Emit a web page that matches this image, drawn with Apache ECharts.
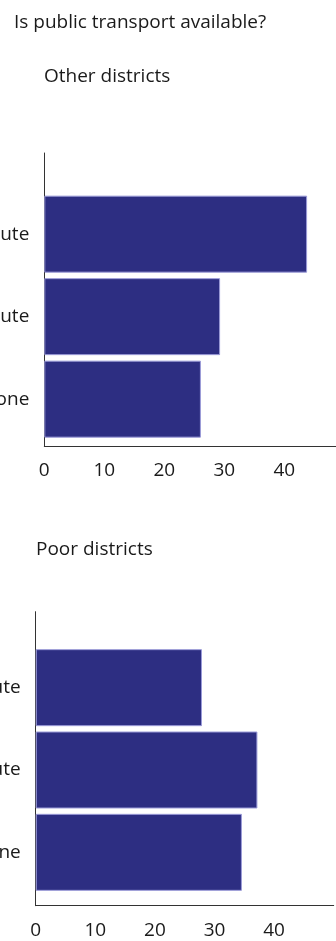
<!DOCTYPE html>
<html><head><meta charset="utf-8">
<script src="https://cdn.jsdelivr.net/npm/echarts@6/dist/echarts.min.js"></script>
<style>html,body{margin:0;padding:0;background:#fff}#c{width:336px;height:941px}</style>
</head><body><div id="c"></div>
<script>
const mainTitle = 'Is public transport available?';
const panelTitles = ['Other districts', 'Poor districts'];
const categories = ['Yes, on my route', 'Yes, but not on my route', 'None'];
const otherDistricts = [43.8, 29.3, 26.1];
const poorDistricts = [27.9, 37.2, 34.6];
const xTicks = [0, 10, 20, 30, 40];

const FONT = '"Open Sans", sans-serif';
const TXT = '#1a1a1a';
const AX = '#333';
const FS = 19;

function barAxes(gi) {
  return {
    x: { type: 'value', gridIndex: gi, min: 0, max: 50, show: false },
    y: { type: 'category', gridIndex: gi, data: categories, inverse: true,
         axisLine: { show: false }, axisTick: { show: false },
         axisLabel: { fontSize: FS, fontFamily: FONT, color: TXT, margin: 15 } }
  };
}
function frameAxes(gi) {
  return {
    x: { type: 'value', gridIndex: gi, min: 0, max: 50, interval: 10,
         axisLine: { show: true, lineStyle: { color: AX, width: 1 } },
         axisTick: { show: false }, splitLine: { show: false },
         axisLabel: { fontSize: FS, fontFamily: FONT, color: TXT, margin: 15,
           formatter: v => xTicks.indexOf(v) >= 0 ? String(v) : '' } },
    y: { type: 'value', gridIndex: gi, min: 0, max: 1,
         axisLine: { show: true, lineStyle: { color: AX, width: 1 } },
         axisTick: { show: false }, splitLine: { show: false }, axisLabel: { show: false } }
  };
}
const a0 = barAxes(0), a1 = frameAxes(1), a2 = barAxes(2), a3 = frameAxes(3);

const barStyle = { color: '#2d2e82', borderColor: '#9b9bd8', borderWidth: 1 };
const gridBase = { containLabel: false, outerBoundsMode: 'none' };
const tStyle = { fontSize: FS, fontWeight: 'normal', fontFamily: FONT, color: TXT };

const chart = echarts.init(document.getElementById('c'), null, { renderer: 'canvas' });
chart.setOption({
  animation: false,
  backgroundColor: '#fff',
  title: [
    { text: mainTitle, left: 14, top: 13, padding: 0, textStyle: tStyle },
    { text: panelTitles[0], left: 44, top: 67, padding: 0, textStyle: tStyle },
    { text: panelTitles[1], left: 36, top: 540, padding: 0, textStyle: tStyle }
  ],
  grid: [
    Object.assign({ left: 44.3, top: 192.9, width: 300, height: 247.5 }, gridBase),
    Object.assign({ left: 44.3, top: 153, width: 300, height: 293 }, gridBase),
    Object.assign({ left: 35.7, top: 646.5, width: 298, height: 247 }, gridBase),
    Object.assign({ left: 35.7, top: 611.7, width: 298, height: 294 }, gridBase)
  ],
  xAxis: [a0.x, a1.x, a2.x, a3.x],
  yAxis: [a0.y, a1.y, a2.y, a3.y],
  series: [
    { type: 'bar', xAxisIndex: 0, yAxisIndex: 0, data: otherDistricts, barWidth: 77, itemStyle: barStyle },
    { type: 'bar', xAxisIndex: 2, yAxisIndex: 2, data: poorDistricts, barWidth: 77, itemStyle: barStyle }
  ]
});
</script></body></html>
